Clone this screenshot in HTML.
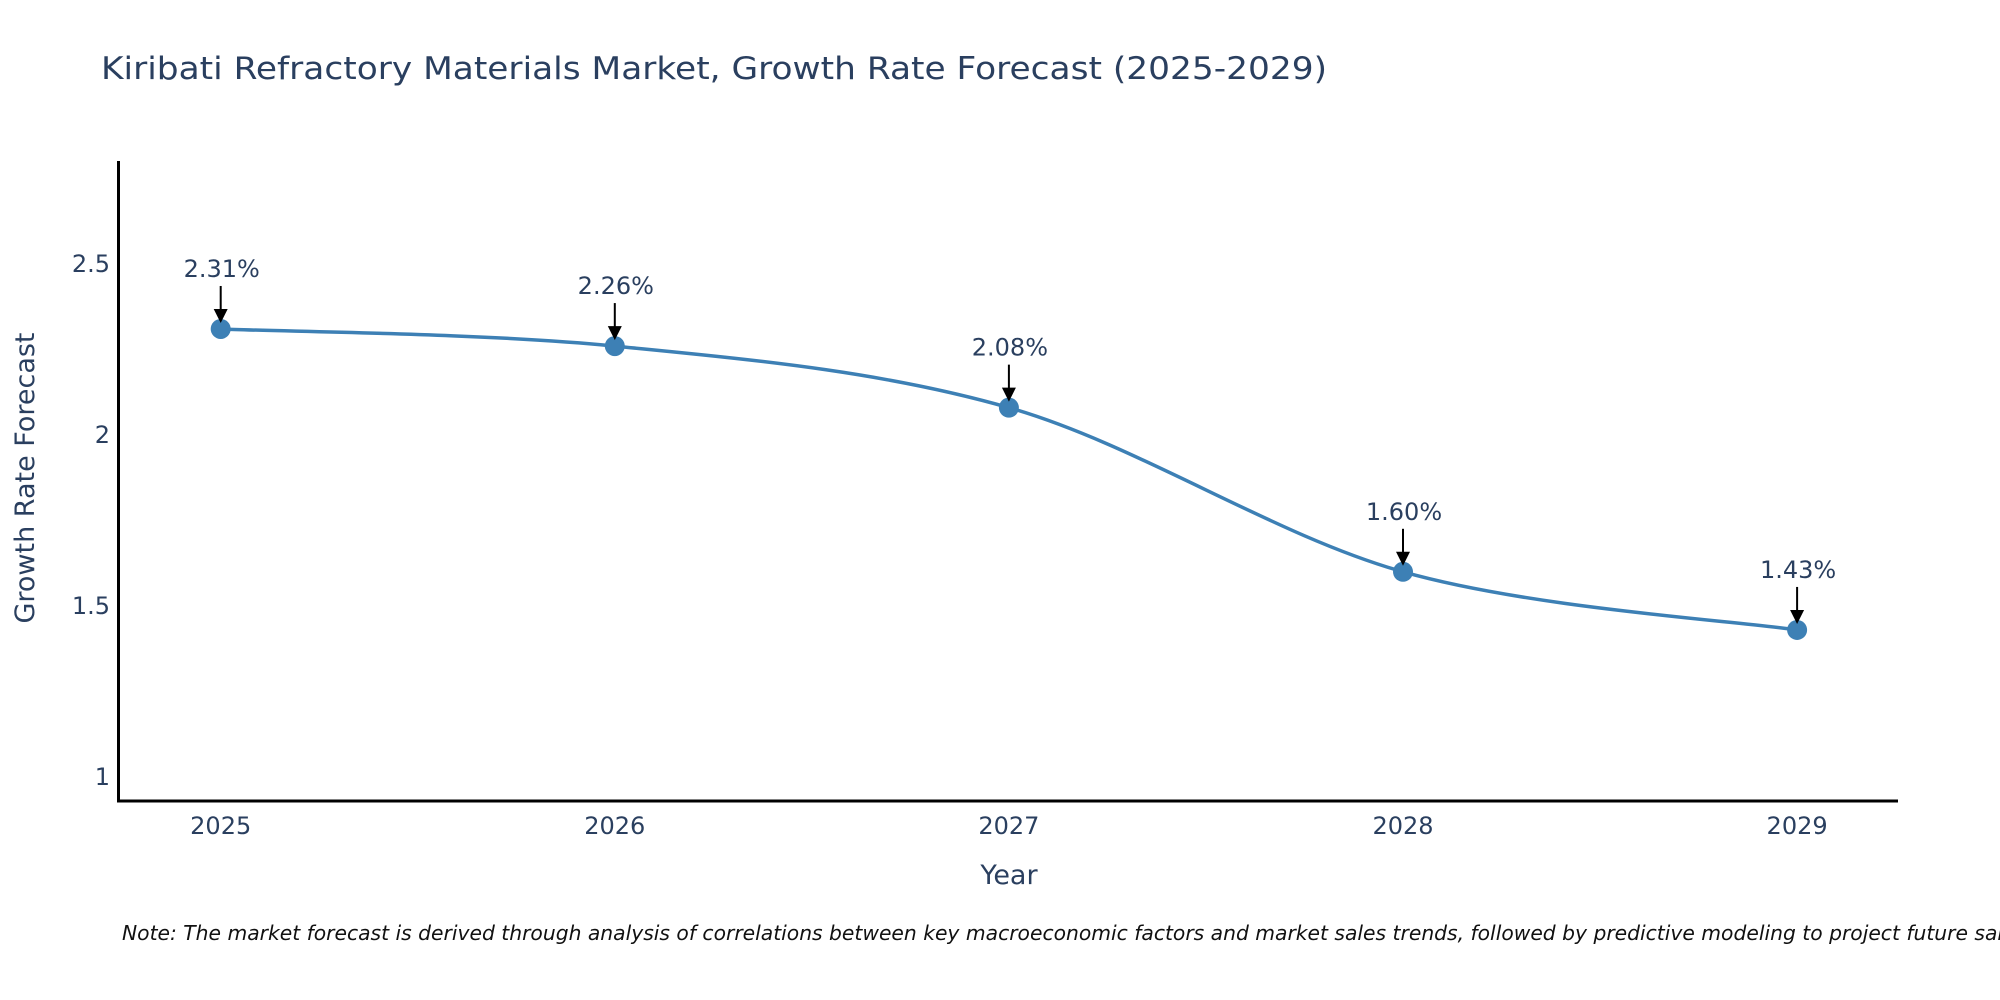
<!DOCTYPE html>
<html><head><meta charset="utf-8"><style>
html,body{margin:0;padding:0;background:#fff;}
svg{display:block;font-family:"DejaVu Sans","Liberation Sans",sans-serif;}
</style></head><body>
<svg id="chart" width="2000" height="1000" viewBox="0 0 2000 1000">
<text x="101" y="79" font-size="31" fill="#2a3f5f" textLength="1226" lengthAdjust="spacingAndGlyphs">Kiribati Refractory Materials Market, Growth Rate Forecast (2025-2029)</text>
<g id="yticks"></g>
<g id="xticks"></g>
<line x1="118.5" y1="161" x2="118.5" y2="801" stroke="#000" stroke-width="3"/>
<line x1="117" y1="801" x2="1898" y2="801" stroke="#000" stroke-width="3"/>
<path id="line" fill="none" stroke="#3d80b5" stroke-width="3.5"/>
<g id="points"></g>
<g id="annots"></g>
<text x="1009" y="884" font-size="27" fill="#2a3f5f" text-anchor="middle">Year</text>
<text transform="translate(34,478) rotate(-90)" font-size="27" fill="#2a3f5f" text-anchor="middle">Growth Rate Forecast</text>
<text x="122" y="940" font-size="20.3" font-style="italic" fill="#111">Note: The market forecast is derived through analysis of correlations between key macroeconomic factors and market sales trends, followed by predictive modeling to project future sales.</text>
</svg>
<script>
const years = [2025, 2026, 2027, 2028, 2029];
const values = [2.31, 2.26, 2.08, 1.60, 1.43];
const labels = ["2.31%", "2.26%", "2.08%", "1.60%", "1.43%"];
const yTicks = [1, 1.5, 2, 2.5];
const yTickLabels = ["1", "1.5", "2", "2.5"];
const NS = "http://www.w3.org/2000/svg";
function xs(v){ return 220.7 + (v - 2025) * 394.1; }
function ys(v){ return 777 - (v - 1) * 342; }
function mk(tag, attrs, parent){ const e=document.createElementNS(NS,tag); for(const k in attrs) e.setAttribute(k,attrs[k]); parent.appendChild(e); return e; }
const yt=document.getElementById('yticks');
yTicks.forEach((t,i)=>{
  const e=mk('text',{x:110,y:ys(t)+8,'font-size':24,fill:'#2a3f5f','text-anchor':'end'},yt);
  e.textContent=yTickLabels[i];
  
  
});
const xt=document.getElementById('xticks');
years.forEach(y=>{
  const e=mk('text',{x:xs(y),y:834,'font-size':24,fill:'#2a3f5f','text-anchor':'middle'},xt);
  e.textContent=String(y);
  
  
});
const P=years.map((y,i)=>[xs(y),ys(values[i])]);
let d='M'+P[0][0]+','+P[0][1];
const s=0.33;
for(let i=0;i<P.length-1;i++){
  const p0=P[i-1]||P[i], p1=P[i], p2=P[i+1], p3=P[i+2]||P[i+1];
  const c1=[p1[0]+(p2[0]-p0[0])*s/2, p1[1]+(p2[1]-p0[1])*s/2];
  const c2=[p2[0]-(p3[0]-p1[0])*s/2, p2[1]-(p3[1]-p1[1])*s/2];
  d+=' C'+c1[0]+','+c1[1]+' '+c2[0]+','+c2[1]+' '+p2[0]+','+p2[1];
}
document.getElementById('line').setAttribute('d',d);
const pts=document.getElementById('points'), an=document.getElementById('annots');
P.forEach((p,i)=>{
  const c=mk('circle',{cx:p[0],cy:p[1],r:10,fill:'#3d80b5'},pts);
  
  
  const l=mk('line',{x1:p[0],y1:p[1]-43,x2:p[0],y2:p[1]-18,stroke:'#000','stroke-width':2},an);
  
  
  const h=mk('polygon',{points:(p[0]-7)+','+(p[1]-20)+' '+(p[0]+7)+','+(p[1]-20)+' '+p[0]+','+(p[1]-6),fill:'#000'},an);
  
  
  const t=mk('text',{x:p[0]+1,y:p[1]-52,'font-size':24,fill:'#2a3f5f','text-anchor':'middle'},an);
  t.textContent=labels[i];
  
  
});
</script>
</body></html>
